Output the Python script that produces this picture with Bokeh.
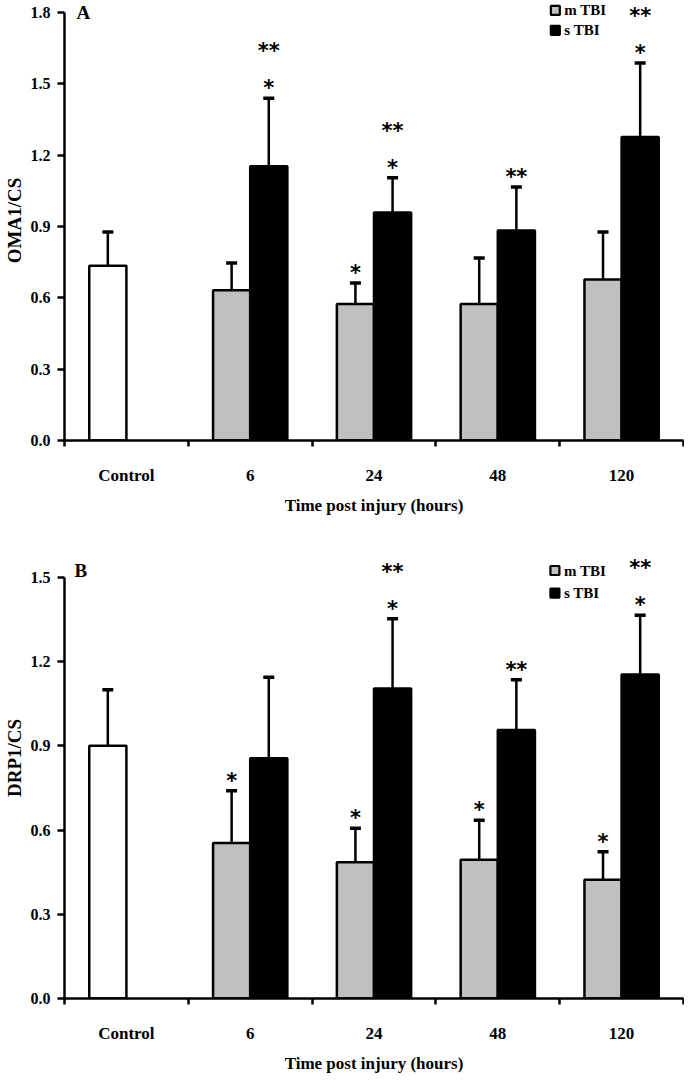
from bokeh.plotting import figure
from bokeh.models import (Range1d, FixedTicker, NumeralTickFormatter, Whisker, TeeHead,
                          ColumnDataSource, Label)
from bokeh.layouts import column
from bokeh.core.properties import value
from bokeh.embed import file_html
from bokeh.resources import INLINE

# ---------------- data ----------------
categories = ["Control", "6", "24", "48", "120"]
series_names = ["m TBI", "s TBI"]
series_colors = ["#c0c0c0", "black"]
control_color = "white"

# Panel A : OMA1/CS
a_control_mean = 0.735
a_control_sem = 0.142
a_mild_mean = [0.632, 0.574, 0.574, 0.677]
a_mild_sem = [0.114, 0.088, 0.193, 0.200]
a_severe_mean = [1.153, 0.959, 0.883, 1.276]
a_severe_sem = [0.286, 0.146, 0.183, 0.311]
a_mild_stars = ["", "*", "", ""]
a_severe_stars = ["*", "*", "**", "*"]
a_severe_stars_top = ["**", "**", "", "**"]
a_y_ticks = [0.0, 0.3, 0.6, 0.9, 1.2, 1.5, 1.8]

# Panel B : DRP1/CS
b_control_mean = 0.90
b_control_sem = 0.20
b_mild_mean = [0.554, 0.485, 0.494, 0.423]
b_mild_sem = [0.186, 0.121, 0.141, 0.100]
b_severe_mean = [0.856, 1.104, 0.956, 1.154]
b_severe_sem = [0.288, 0.249, 0.179, 0.211]
b_mild_stars = ["*", "*", "*", "*"]
b_severe_stars = ["", "*", "**", "*"]
b_severe_stars_top = ["", "**", "", "**"]
b_y_ticks = [0.0, 0.3, 0.6, 0.9, 1.2, 1.5]

SERIF = "Liberation Serif"
BAR_W = 0.3
WIDTH = 684


def make_panel(letter, ylabel, c_mean, c_sem, m_mean, m_sem, s_mean, s_sem,
               m_st, s_st, s_st2, yticks, height, border_left, border_bottom,
               top_px, legend_px, legend_rows_px, letter_px):
    frame_h = height - border_bottom
    frame_w = WIDTH - border_left - 1
    ymax = yticks[-1]
    y_end = ymax * frame_h / (frame_h - top_px)
    scale = (frame_h - top_px) / ymax
    n = len(categories)
    p = figure(width=WIDTH, height=height, output_backend="svg", toolbar_location=None,
               x_range=Range1d(0, n), y_range=Range1d(0, y_end),
               min_border_left=border_left, min_border_right=1, min_border_top=0,
               min_border_bottom=border_bottom)
    p.outline_line_color = None
    p.grid.visible = False
    p.background_fill_color = "white"

    def px_to_x(px):
        return px / frame_w * n

    def px_to_y(px):  # px measured down from frame top
        return y_end - px / scale

    centers = [i + 0.5 for i in range(n)]
    mx = [c - BAR_W / 2 for c in centers[1:]]
    sx = [c + BAR_W / 2 for c in centers[1:]]
    cx = [centers[0] - BAR_W / 2]

    src_c = ColumnDataSource(dict(x=cx, top=[c_mean], up=[c_mean + c_sem]))
    src_m = ColumnDataSource(dict(x=mx, top=m_mean, up=[a + b for a, b in zip(m_mean, m_sem)], st=m_st))
    src_s = ColumnDataSource(dict(x=sx, top=s_mean, up=[a + b for a, b in zip(s_mean, s_sem)],
                                  st=s_st, st2=s_st2))

    p.vbar(x="x", top="top", width=BAR_W, bottom=0, source=src_c,
           fill_color=control_color, line_color="black", line_width=2.5)
    p.vbar(x="x", top="top", width=BAR_W, bottom=0, source=src_m,
           fill_color=series_colors[0], line_color="black", line_width=2.5)
    p.vbar(x="x", top="top", width=BAR_W, bottom=0, source=src_s,
           fill_color=series_colors[1], line_color="black", line_width=2.5)

    for src in (src_c, src_m, src_s):
        p.add_layout(Whisker(source=src, base="x", lower="top", upper="up", dimension="height",
                             line_color="black", line_width=2.5, lower_head=None,
                             upper_head=TeeHead(size=11, line_width=3.5, line_color="black")))

    star_kw = dict(text_font=value("DejaVu Sans"), text_font_style="bold", text_font_size="21px",
                   text_align="center", text_baseline="middle", text_color="black")
    p.text(x="x", y="up", text="st", source=src_m, y_offset=-10, **star_kw)
    p.text(x="x", y="up", text="st", source=src_s, y_offset=-10, **star_kw)
    p.text(x="x", y="up", text="st2", source=src_s, y_offset=-47, **star_kw)

    # legend (drawn as small squares + labels)
    lx = px_to_x(legend_px)
    ly = [px_to_y(r) for r in legend_rows_px]
    p.rect(x=[lx, lx], y=ly, width=9, height=9, width_units="screen", height_units="screen",
           fill_color=series_colors, line_color="black", line_width=2.2)
    p.text(x=[lx, lx], y=ly, text=series_names, x_offset=9,
           text_font=value(SERIF), text_font_style="bold", text_font_size="15px",
           text_align="left", text_baseline="middle", text_color="black")

    # axes
    xa = p.xaxis[0]
    xa.ticker = FixedTicker(ticks=centers, minor_ticks=list(range(n + 1)))
    xa.major_label_overrides = {c: lab for c, lab in zip(centers, categories)}
    xa.major_tick_line_color = None
    xa.major_tick_out = 0
    xa.major_tick_in = 0
    xa.minor_tick_line_color = "black"
    xa.minor_tick_line_width = 2.5
    xa.minor_tick_out = 6
    xa.minor_tick_in = 0
    xa.axis_line_width = 2.5
    xa.axis_line_color = "black"
    xa.major_label_standoff = 19
    xa.major_label_text_font = SERIF
    xa.major_label_text_font_style = "bold"
    xa.major_label_text_font_size = "17px"
    xa.major_label_text_color = "black"
    xa.axis_label = "Time post injury (hours)"
    xa.axis_label_text_font = SERIF
    xa.axis_label_text_font_style = "bold"
    xa.axis_label_text_font_size = "17px"
    xa.axis_label_text_color = "black"
    xa.axis_label_standoff = 8

    ya = p.yaxis[0]
    ya.ticker = FixedTicker(ticks=yticks)
    ya.formatter = NumeralTickFormatter(format="0.0")
    ya.bounds = (0, ymax)
    ya.minor_tick_line_color = None
    ya.major_tick_out = 7
    ya.major_tick_in = 0
    ya.major_tick_line_width = 2.5
    ya.axis_line_width = 2.5
    ya.axis_line_color = "black"
    ya.major_label_standoff = 7
    ya.major_label_text_font = SERIF
    ya.major_label_text_font_style = "bold"
    ya.major_label_text_font_size = "16px"
    ya.major_label_text_color = "black"
    ya.axis_label = ylabel
    ya.axis_label_text_font = SERIF
    ya.axis_label_text_font_style = "bold"
    ya.axis_label_text_font_size = "19px"
    ya.axis_label_text_color = "black"
    ya.axis_label_standoff = 3

    p.add_layout(Label(x=px_to_x(letter_px[0]), y=px_to_y(letter_px[1]), text=letter,
                       text_font=SERIF, text_font_style="bold", text_font_size="19px",
                       text_baseline="middle", text_align="left", text_color="black"))
    return p


pa = make_panel("A", "OMA1/CS", a_control_mean, a_control_sem, a_mild_mean, a_mild_sem,
                a_severe_mean, a_severe_sem, a_mild_stars, a_severe_stars, a_severe_stars_top,
                a_y_ticks, height=517, border_left=60, border_bottom=74, top_px=12,
                legend_px=494, legend_rows_px=(10, 30), letter_px=(12, 12))
pb = make_panel("B", "DRP1/CS", b_control_mean, b_control_sem, b_mild_mean, b_mild_sem,
                b_severe_mean, b_severe_sem, b_mild_stars, b_severe_stars, b_severe_stars_top,
                b_y_ticks, height=558, border_left=62, border_bottom=68, top_px=61,
                legend_px=492, legend_rows_px=(54, 77), letter_px=(10, 54))

layout = column(pa, pb, spacing=0)
open("out.html", "w").write(file_html(layout, INLINE))
